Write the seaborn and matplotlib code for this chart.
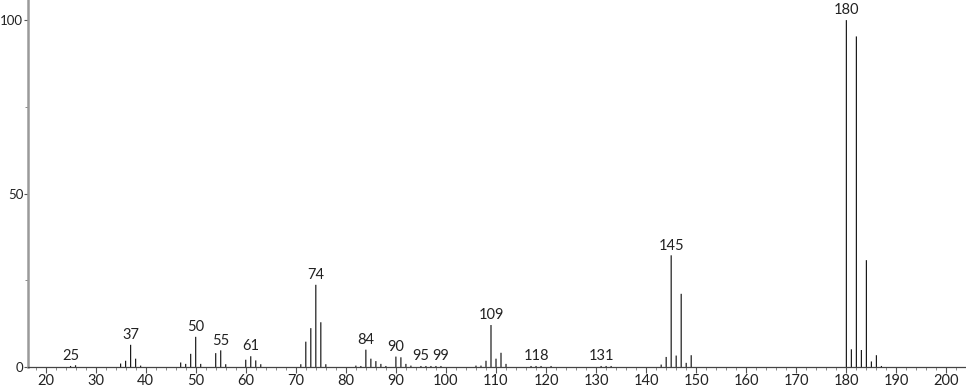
import matplotlib
matplotlib.use("Agg")
import matplotlib.pyplot as plt
import seaborn as sns
import pandas as pd
from matplotlib.ticker import MultipleLocator, FixedLocator

mz = [25, 26, 35, 36, 37, 38, 39, 47, 48, 49, 50, 51, 54, 55, 56, 60, 61, 62, 63,
      71, 72, 73, 74, 75, 76, 82, 83, 84, 85, 86, 87, 88, 90, 91, 92, 93,
      95, 96, 97, 98, 99, 106, 107, 108, 109, 110, 111, 112, 117, 118, 119, 121,
      131, 132, 133, 143, 144, 145, 146, 147, 148, 149,
      180, 181, 182, 183, 184, 185, 186, 187]
intensity = [0.3, 0.5, 1.0, 1.8, 6.4, 2.4, 0.4, 1.3, 0.9, 3.8, 8.7, 0.9, 4.0, 4.8, 0.8, 2.1, 3.1, 1.9, 0.8,
             0.8, 7.3, 11.2, 23.7, 12.9, 0.8, 0.4, 0.3, 5.0, 2.4, 1.7, 0.9, 0.3, 3.0, 2.8, 0.9, 0.4,
             0.3, 0.3, 0.3, 0.3, 0.3, 0.4, 0.4, 1.8, 12.1, 2.4, 4.1, 0.9, 0.3, 0.3, 0.3, 0.3,
             0.3, 0.3, 0.3, 0.7, 2.9, 32.2, 3.3, 21.1, 1.2, 3.4,
             100.0, 5.1, 95.3, 4.9, 30.8, 1.6, 3.4, 0.3]
labeled = [25, 37, 50, 55, 61, 74, 84, 90, 95, 99, 109, 118, 131, 145, 180]
x_ticks = list(range(20, 201, 10))
y_ticks = [0, 50, 100]

df = pd.DataFrame({"mz": mz, "intensity": intensity})

sns.set_style("ticks")
plt.rcParams["font.family"] = ["Lato", "DejaVu Sans"]

W, H = 966, 389
fig = plt.figure(figsize=(W / 100, H / 100), dpi=100)
ax = fig.add_axes([28 / W, 22 / H, (W - 28) / W, (H - 22) / H])

sns.histplot(data=df, x="mz", weights="intensity", discrete=True, shrink=0.24,
             color="#1a1a1a", alpha=1.0, linewidth=0, ax=ax)
for p in ax.patches:
    p.set_snap(False)

for m in labeled:
    v = intensity[mz.index(m)]
    ax.annotate(str(m), xy=(m, v), xytext=(0, 2), textcoords="offset points",
                ha="center", va="bottom", fontsize=10.5, color="#222222")

ax.set_xlim(16.5, 203.9)
ax.set_ylim(0, 105.8)
ax.set_xlabel("")
ax.set_ylabel("")

ax.xaxis.set_major_locator(FixedLocator(x_ticks))
ax.xaxis.set_minor_locator(MultipleLocator(2))
ax.yaxis.set_major_locator(FixedLocator(y_ticks))
ax.yaxis.set_minor_locator(FixedLocator([25, 75]))
ax.tick_params(axis="x", which="major", length=4, width=0.8, color="#555555",
               labelsize=10.5, labelcolor="#222222", pad=1)
ax.tick_params(axis="x", which="minor", length=2, width=0.6, color="#777777")
ax.tick_params(axis="y", which="major", length=3, width=0.8, color="#555555",
               labelsize=9.5, labelcolor="#222222", pad=0.5)
ax.tick_params(axis="y", which="minor", length=2.5, width=0.6, color="#777777")

for s in ["top", "right"]:
    ax.spines[s].set_visible(False)
ax.spines["left"].set_color("#9a9a9a")
ax.spines["left"].set_linewidth(1.8)
ax.spines["bottom"].set_color("#444444")
ax.spines["bottom"].set_linewidth(0.9)

fig.savefig("out.png", dpi=100)
